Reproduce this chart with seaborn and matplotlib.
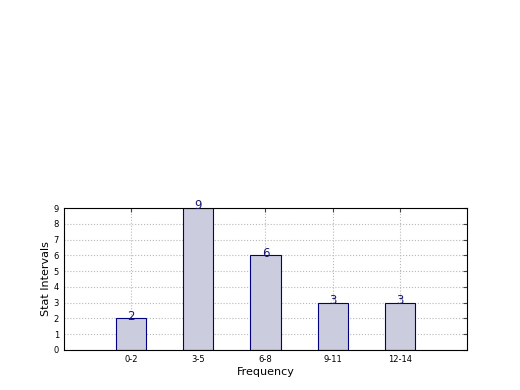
import matplotlib
matplotlib.use("Agg")
import matplotlib.pyplot as plt
import seaborn as sns
import pandas as pd

categories = ["0-2", "3-5", "6-8", "9-11", "12-14"]
counts = [2, 9, 6, 3, 3]

sns.set_style("white")
plt.rcParams['font.family'] = ['DejaVu Sans']

df = pd.DataFrame({"interval": categories, "count": counts})

fig = plt.figure(figsize=(5.2, 3.9), dpi=100)
ax = fig.add_axes([0.123, 0.1026, 0.775, 0.364])

sns.barplot(data=df, x="interval", y="count", ax=ax, color="#ccccdf",
            saturation=1, width=0.45, edgecolor="#000080", linewidth=0.8, zorder=2)

for i, v in enumerate(counts):
    ax.annotate(str(v), (i, v), xytext=(0, -1), textcoords="offset points",
                ha="center", va="baseline", fontsize=8.5, color="#1a1a70", zorder=3)

ax.set_xlim(-1, 5)
ax.set_ylim(0, 9)
ax.set_yticks(range(10))
ax.grid(True, linestyle=":", color="#b8b8b8", linewidth=0.8, zorder=0)
ax.set_axisbelow(True)
for s in ax.spines.values():
    s.set_visible(True)
    s.set_color("black")
    s.set_linewidth(0.8)
ax.tick_params(axis="both", direction="in", top=True, right=True, labelsize=6,
               length=3, color="#444444", labelcolor="black")
ax.set_xlabel("Frequency", fontsize=8, labelpad=2, color="black")
ax.set_ylabel("Stat Intervals", fontsize=8, labelpad=2, color="black")

fig.savefig("out.png", dpi=100)
